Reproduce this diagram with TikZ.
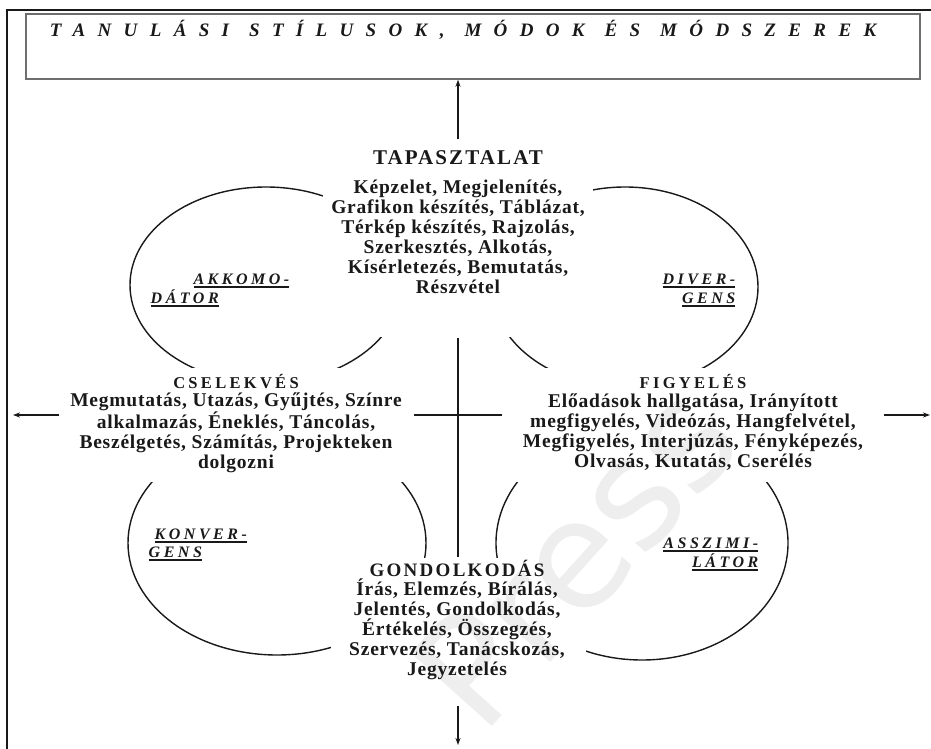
\documentclass[tikz,border=0pt]{standalone}
\usepackage{fontspec}
\setmainfont{Liberation Serif}
\newfontfamily\bodyfont[LetterSpace=4]{Liberation Serif}
\newfontfamily\headfont[LetterSpace=10]{Liberation Serif}
\newfontfamily\sidefont[LetterSpace=20]{Liberation Serif}
\newfontfamily\gondfont[LetterSpace=12]{Liberation Serif}
\newfontfamily\titlefont[LetterSpace=65]{Liberation Serif}
\newfontfamily\stylefont[LetterSpace=22]{Liberation Serif}
\newfontfamily\wmfont{DejaVu Sans}
\usetikzlibrary{arrows.meta}

\definecolor{ink}{RGB}{25,25,25}
\definecolor{boxgray}{RGB}{110,110,110}
\definecolor{wmark}{RGB}{238,238,238}

\newsavebox\ulbox
\newcommand{\ulabel}[1]{\sbox\ulbox{#1}\rlap{\usebox\ulbox}\raisebox{-3.5pt}{\rule{\wd\ulbox}{1.8pt}}}

\tikzset{
  kolb/.style={x=1pt,y=-1pt,line width=1.4pt,draw=ink},
  cover/.style={fill=white,draw=none,inner sep=0pt},
  group/.style={anchor=north,inner sep=0pt,align=center,text=ink,
    font=\bodyfont\bfseries\fontsize{19.5}{20}\selectfont},
  stylelbl/.style={inner sep=0pt,text=ink,
    font=\stylefont\bfseries\itshape\fontsize{16}{18}\selectfont},
  arr/.style={-{Stealth[length=7pt,width=5pt]}},
}
\newcommand{\hd}[1]{\rule{0pt}{20pt}{\headfont\fontsize{21}{20}\selectfont #1}}
\newcommand{\sidehd}[1]{\rule{0pt}{20pt}{\sidefont\fontsize{16.5}{20}\selectfont #1}}
\newcommand{\gondhd}[1]{\rule{0pt}{20pt}{\gondfont\fontsize{19}{20}\selectfont #1}}
\newcommand{\wsp}{\hspace*{20pt}}

\begin{document}
\begin{tikzpicture}[kolb]
  \useasboundingbox (0,0) rectangle (931,749);
  % frame and title
  \draw[line width=1.6pt] (7,749) -- (7,10) -- (931,10);
  \node[draw=boxgray,line width=1.5pt,inner sep=0pt,minimum width=894pt,minimum height=65pt] (title) at (473,46.5) {};
  \node[inner sep=0pt,text=ink,font=\titlefont\bfseries\itshape\fontsize{19}{19}\selectfont] (titletext) at (463,30)
    {TANULÁSI\wsp STÍLUSOK,\wsp MÓDOK\wsp ÉS\wsp MÓDSZEREK};

  % the four learning styles
  \draw (266,285) ellipse[x radius=136pt, y radius=98pt];
  \draw (625,287) ellipse[x radius=133pt, y radius=100pt];
  \draw (277,543) ellipse[x radius=149pt, y radius=112pt];
  \draw (642,543) ellipse[x radius=146pt, y radius=117pt];

  % text fields over the ellipses
  \node[cover,minimum width=270pt,minimum height=197pt] (tap) at (458,238.5) {};
  \node[cover,minimum width=353pt,minimum height=114pt] (csel) at (236.5,425) {};
  \node[cover,minimum width=380pt,minimum height=114pt] (fig) at (693,425) {};
  \node[cover,minimum width=255pt,minimum height=147pt] (gond) at (458,631.5) {};

  \node[rotate=48,text=wmark,font=\wmfont\fontsize{150}{150}\selectfont] (wm) at (575,555) {Press};

  \node[group] (taptext) at (458,144) {\hd{TAPASZTALAT}\\[9pt]
    Képzelet, Megjelenítés,\\ Grafikon készítés, Táblázat,\\ Térkép készítés, Rajzolás,\\
    Szerkesztés, Alkotás,\\ Kísérletezés, Bemutatás,\\ Részvétel};
  \node[group] (cseltext) at (236,368) {\sidehd{CSELEKVÉS}\\[-2pt]
    Megmutatás, Utazás, Gyűjtés, Színre\\ alkalmazás, Éneklés, Táncolás,\\
    Beszélgetés, Számítás, Projekteken\\ dolgozni};
  \node[group] (figtext) at (693,368) {\sidehd{FIGYELÉS}\\[-1pt]
    Előadások hallgatása, Irányított\\ megfigyelés, Videózás, Hangfelvétel,\\
    Megfigyelés, Interjúzás, Fényképezés,\\ Olvasás, Kutatás, Cserélés};
  \node[group] (gondtext) at (457,556) {\gondhd{GONDOLKODÁS}\\[-1pt]
    Írás, Elemzés, Bírálás,\\ Jelentés, Gondolkodás,\\ Értékelés, Összegzés,\\
    Szervezés, Tanácskozás,\\ Jegyzetelés};

  % style names
  \node[stylelbl,anchor=base east] (akk1) at (290,284) {\ulabel{AKKOMO-}};
  \node[stylelbl,anchor=base west] (akk2) at (150,303) {\ulabel{DÁTOR}};
  \node[stylelbl,anchor=base east] (div1) at (736,284) {\ulabel{DIVER-}};
  \node[stylelbl,anchor=base east] (div2) at (736,303) {\ulabel{GENS}};
  \node[stylelbl,anchor=base west] (konv1) at (154,539) {\ulabel{KONVER-}};
  \node[stylelbl,anchor=base west] (konv2) at (148,557) {\ulabel{GENS}};
  \node[stylelbl,anchor=base east] (asz1) at (759,548) {\ulabel{ASSZIMI-}};
  \node[stylelbl,anchor=base east] (asz2) at (759,567) {\ulabel{LÁTOR}};

  % axes
  \coordinate (west) at (13,415);
  \coordinate (east) at (930,415);
  \coordinate (south) at (458,745);
  \draw[arr,line width=1.2pt] (tap.north) -- (tap.north |- title.south);
  \draw[line width=1.2pt] (tap.south) -- (gond.north);
  \draw[line width=1.2pt] (csel.east |- west) -- (fig.west |- west);
  \draw[arr,line width=1.2pt] (csel.west |- west) -- (west);
  \draw[arr,line width=1.2pt] (fig.east |- east) -- (east);
  \draw[arr,line width=1.2pt] (gond.south) -- (south);
\end{tikzpicture}
\end{document}
